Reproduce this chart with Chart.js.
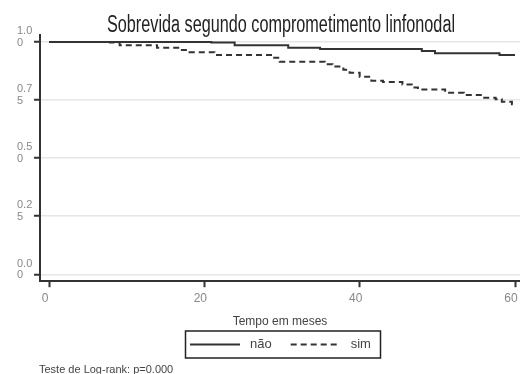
<!DOCTYPE html>
<html>
<head>
<meta charset="utf-8">
<script src="https://cdn.jsdelivr.net/npm/chart.js"></script>
<style>
  html, body { margin: 0; padding: 0; background: #fff; }
  #wrap { width: 520px; height: 374px; }
</style>
</head>
<body>
<div id="wrap"><canvas id="grafico"></canvas></div>
<script>
  // curvas de Kaplan-Meier (tempo em meses, sobrevida)
  const mesesNao = [0, 20.9, 23.9, 30.8, 34.9, 48, 49.7, 58, 60];
  const sobrevidaNao = [1, 0.997, 0.986, 0.975, 0.969, 0.961, 0.951, 0.944, 0.944];

  const mesesSim = [0, 7.85, 9.1, 13.9, 16.9, 18.1, 21.3, 28.8, 29.7, 35.5, 36.5, 37.9, 38.7,
    40, 41.5, 43, 45.5, 46.7, 47.5, 51, 53.4, 55.8, 57.5, 58.3, 59.6, 60];
  const sobrevidaSim = [1, 0.997, 0.986, 0.975, 0.965, 0.956, 0.944, 0.932, 0.915, 0.904, 0.894, 0.880, 0.867,
    0.850, 0.833, 0.827, 0.817, 0.804, 0.795, 0.781, 0.771, 0.760, 0.753, 0.743, 0.732, 0.732];

  const ticksX = [0, 20, 40, 60];
  const ticksY = [0, 0.25, 0.5, 0.75, 1];
  const rotulosY = [['0.0', '0'], ['0.2', '5'], ['0.5', '0'], ['0.7', '5'], ['1.0', '0']];

  const titulo = 'Sobrevida segundo comprometimento linfonodal';
  const rodape = 'Teste de Log-rank: p=0.000';

  function pontos(xs, ys) {
    return xs.map(function (x, i) { return { x: x, y: ys[i] }; });
  }

  // titulo condensado (fonte estreita, como no original) e rodape
  const pluginTitulo = {
    id: 'tituloEstreito',
    afterDraw(chart) {
      const ctx = chart.ctx;
      ctx.save();
      ctx.font = '23px "Liberation Sans Narrow", "Liberation Sans", sans-serif';
      ctx.fillStyle = '#222';
      ctx.textBaseline = 'alphabetic';
      const w = ctx.measureText(titulo).width;
      ctx.translate(281, 32);
      ctx.scale(348 / w, 1);
      ctx.textAlign = 'center';
      ctx.fillText(titulo, 0, 0);
      ctx.restore();

      ctx.save();
      ctx.font = '11px "Liberation Sans", Arial, sans-serif';
      ctx.fillStyle = '#444';
      ctx.textAlign = 'left';
      ctx.fillText(rodape, 39, 373);
      ctx.restore();
    }
  };

  // legenda com moldura, no estilo do Stata
  const pluginLegenda = {
    id: 'legendaMoldura',
    afterDraw(chart) {
      const ctx = chart.ctx;
      const cy = 344.5;
      ctx.save();
      ctx.strokeStyle = '#222';
      ctx.lineWidth = 1.5;
      ctx.strokeRect(185.5, 331, 195, 27);
      let x = 190;
      chart.data.datasets.forEach(function (ds) {
        ctx.strokeStyle = ds.borderColor;
        ctx.lineWidth = ds.borderWidth;
        ctx.setLineDash(ds.borderDash || []);
        ctx.beginPath();
        ctx.moveTo(x, cy);
        ctx.lineTo(x + 50, cy);
        ctx.stroke();
        ctx.setLineDash([]);
        ctx.font = '13px "Liberation Sans", Arial, sans-serif';
        ctx.fillStyle = '#444';
        ctx.textBaseline = 'middle';
        ctx.textAlign = 'left';
        ctx.fillText(ds.label, x + 60, cy);
        x += 60 + ctx.measureText(ds.label).width + 19;
      });
      ctx.restore();
    }
  };

  const config = {
    type: 'line',
    data: {
      datasets: [{
        label: 'não',
        data: pontos(mesesNao, sobrevidaNao),
        borderColor: '#333',
        borderWidth: 2,
        stepped: 'before',
        pointRadius: 0,
        fill: false
      },
      {
        label: 'sim',
        data: pontos(mesesSim, sobrevidaSim),
        borderColor: '#333',
        borderWidth: 2,
        borderDash: [6, 4],
        stepped: 'before',
        pointRadius: 0,
        fill: false
      }]
    },
    options: {
      responsive: true,
      maintainAspectRatio: false,
      animation: false,
      layout: { padding: { left: 17, top: 35, right: 0, bottom: 45 } },
      plugins: {
        title: { display: false },
        tooltip: { enabled: false },
        legend: { display: false }
      },
      scales: {
        x: {
          type: 'linear',
          min: -1.16,
          max: 60.64,
          afterBuildTicks: function (scale) {
            scale.ticks = ticksX.map(function (v) { return { value: v }; });
          },
          afterFit: function (scale) {
            scale.paddingRight = 0;
            scale.paddingLeft = 0;
          },
          border: { display: true, color: '#333', width: 2 },
          grid: {
            drawOnChartArea: false,
            drawTicks: true,
            tickLength: 6,
            tickWidth: 2,
            tickColor: '#333'
          },
          ticks: {
            color: '#888',
            padding: 4,
            labelOffset: -4,
            maxRotation: 0,
            font: { family: '"Liberation Sans", Arial, sans-serif', size: 12 }
          },
          title: {
            display: true,
            text: 'Tempo em meses',
            color: '#444',
            padding: { top: 5, bottom: 0 },
            font: { family: '"Liberation Sans", Arial, sans-serif', size: 12 }
          }
        },
        y: {
          type: 'linear',
          min: -0.0297,
          max: 1.0297,
          afterBuildTicks: function (scale) {
            scale.ticks = ticksY.map(function (v) { return { value: v }; });
          },
          afterFit: function (scale) {
            scale.width = 23;
            scale.paddingTop = 0;
            scale.paddingBottom = 0;
          },
          border: { display: true, color: '#333', width: 2 },
          grid: {
            color: '#e6e6e6',
            lineWidth: 1.5,
            drawTicks: true,
            tickLength: 6,
            tickWidth: 2,
            tickColor: '#333'
          },
          ticks: {
            color: '#888',
            crossAlign: 'far',
            labelOffset: -5,
            padding: 0,
            font: { family: '"Liberation Sans", Arial, sans-serif', size: 11, lineHeight: 1.05 },
            callback: function (valor) {
              const i = ticksY.indexOf(valor);
              return i >= 0 ? rotulosY[i] : '';
            }
          }
        }
      }
    },
    plugins: [pluginTitulo, pluginLegenda]
  };

  const grafico = new Chart(document.getElementById('grafico'), config);
</script>
</body>
</html>
